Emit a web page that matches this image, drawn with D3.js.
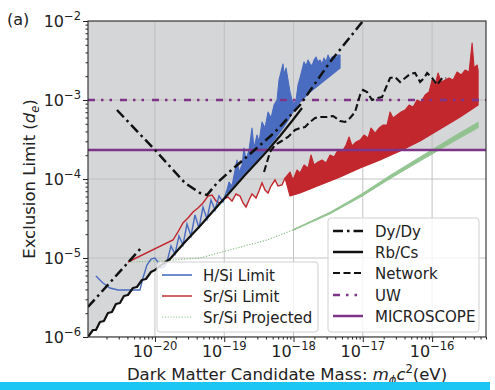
<!DOCTYPE html>
<html>
<head>
<meta charset="utf-8">
<script src="https://cdn.jsdelivr.net/npm/d3@7"></script>
<style>
  html, body { margin: 0; padding: 0; background: #fff; }
  svg { display: block; font-family: "DejaVu Sans", sans-serif; }
</style>
</head>
<body>
<svg id="chart" width="495" height="390"></svg>
<script>
// ---- axis ticks ----
const massTicks = [1e-20, 1e-19, 1e-18, 1e-17, 1e-16];
const massTickExp = ["\u221220", "\u221219", "\u221218", "\u221217", "\u221216"];
const limitTicks = [1e-6, 1e-5, 1e-4, 1e-3, 1e-2];
const limitTickExp = ["\u22126", "\u22125", "\u22124", "\u22123", "\u22122"];

// ---- Rb/Cs clock comparison ----
const rbcsMass = [1.078e-21, 1.273e-21, 1.406e-21, 1.607e-21, 1.834e-21, 2.096e-21, 2.394e-21, 2.734e-21, 3.126e-21, 3.567e-21,
  4.07e-21, 4.81e-21, 5.496e-21, 6.49e-21, 7.413e-21, 8.76e-21, 1e-20, 1.181e-20, 1.647e-20, 2.712e-20,
  4.466e-20, 7.354e-20, 1.211e-19, 1.994e-19, 3.072e-19, 4.283e-19, 6.383e-19, 9.513e-19, 1.327e-18];
const rbcsLimit = [1e-6, 1.226e-6, 1.226e-6, 1.548e-6, 1.594e-6, 2.013e-6, 2.073e-6, 2.616e-6, 2.694e-6, 3.304e-6,
  3.401e-6, 4.172e-6, 4.295e-6, 5.267e-6, 5.424e-6, 6.65e-6, 7.05e-6, 7.918e-6, 9.71e-6, 1.594e-5,
  2.542e-5, 4.172e-5, 6.846e-5, 1.124e-4, 1.69e-4, 2.329e-4, 3.502e-4, 5.424e-4, 7.918e-4];

// ---- Dy/Dy (two runs, null separates them) ----
const dyMass = [1.078e-21, 6.49e-21, null, 2.827e-21, 1e-20, 2.712e-20, 4.466e-20, 5.635e-20, 7.858e-20, 1.133e-19,
  2.354e-19, 5.406e-19, 1.241e-18, 3.366e-18, 1.008e-17];
const dyLimit = [2.397e-6, 1.378e-5, null, 7.471e-4, 2.329e-4, 8.9e-5, 6.65e-5, 6.274e-5, 8.9e-5, 1.191e-4,
  2.073e-4, 3.935e-4, 8.644e-4, 3.027e-3, 1e-2];

// ---- clock network ----
const networkMass = [3.75e-19, 4.578e-19, 5.406e-19, 6.383e-19, 8.33e-19, 1.051e-18, 1.241e-18, 1.466e-18, 1.731e-18, 2.044e-18,
  2.414e-18, 3.047e-18, 3.719e-18, 4.694e-18, 5.543e-18, 6.546e-18, 7.728e-18, 9.128e-18, 1.008e-17, 1.152e-17,
  1.36e-17, 1.606e-17, 1.897e-17, 2.24e-17, 2.475e-17, 2.922e-17, 3.451e-17, 4.075e-17, 4.813e-17, 5.682e-17,
  6.71e-17, 7.665e-17, 8.47e-17, 1e-16, 1.181e-16, 1.395e-16, 1.593e-16];
const networkLimit = [1.226e-4, 2.197e-4, 2.694e-4, 2.941e-4, 3.401e-4, 4.172e-4, 4.42e-4, 4.551e-4, 5.267e-4, 5.917e-4,
  6.091e-4, 6.091e-4, 6.274e-4, 5.424e-4, 5.267e-4, 5.917e-4, 7.05e-4, 1.157e-3, 1.339e-3, 1.263e-3,
  1e-3, 1.06e-3, 1.091e-3, 1.548e-3, 1.899e-3, 1.955e-3, 1.69e-3, 1.899e-3, 2.134e-3, 2.197e-3,
  1.69e-3, 1.899e-3, 2.197e-3, 1.899e-3, 1.548e-3, 1.899e-3, 1.899e-3];

// ---- H/Si limit: single trace at low mass, dense band above ----
const hsiTraceMass = [1.406e-21, 1.774e-21, 2.239e-21, 2.924e-21, 4.07e-21, 6.07e-21, 6.71e-21, 7.66e-21, 8.76e-21, 1e-20,
  1.105e-20, 1.22e-20, 1.349e-20, 1.49e-20, 1.702e-20, 1.945e-20, 2.22e-20, 2.537e-20, 2.898e-20, 3.31e-20,
  3.781e-20, 4.32e-20, 4.933e-20, 5.635e-20, 6.438e-20, 7.354e-20, 8.4e-20, 9.594e-20, 1.096e-19];
const hsiTraceLimit = [5.917e-6, 4.826e-6, 4.172e-6, 3.936e-6, 3.936e-6, 3.936e-6, 5.582e-6, 8.154e-6, 9.71e-6, 1e-5,
  8.9e-6, 7.471e-6, 7.693e-6, 8.9e-6, 1.419e-5, 1.124e-5, 1.899e-5, 1.461e-5, 2.694e-5, 1.899e-5,
  3.502e-5, 2.397e-5, 4.42e-5, 3.116e-5, 5.424e-5, 4.052e-5, 6.091e-5, 5.116e-5, 7.26e-5];
const hsiUpperMass = [1.096e-19, 1.171e-19, 1.294e-19, 1.43e-19, 1.528e-19, 1.633e-19, 1.804e-19, 1.929e-19, 2.061e-19, 2.278e-19,
  2.516e-19, 2.689e-19, 2.971e-19, 3.175e-19, 3.509e-19, 3.877e-19, 4.283e-19, 4.733e-19, 5.229e-19, 5.778e-19,
  6.175e-19, 6.6e-19, 7.054e-19, 7.292e-19, 7.793e-19, 8.33e-19, 8.9e-19, 9.513e-19, 1.017e-18, 1.087e-18,
  1.161e-18, 1.241e-18, 1.327e-18, 1.418e-18, 1.515e-18, 1.62e-18, 1.731e-18, 1.85e-18, 1.977e-18, 2.113e-18,
  2.258e-18, 2.414e-18, 2.58e-18, 2.757e-18, 2.947e-18, 3.149e-18, 3.366e-18, 3.597e-18, 3.844e-18, 4.109e-18,
  4.392e-18, 4.694e-18];
const hsiUpper = [7.26e-5, 9.162e-5, 8.154e-5, 1.3e-4, 1.74e-4, 1.226e-4, 1.504e-4, 2.469e-4, 1.74e-4, 2.329e-4,
  4.42e-4, 2.469e-4, 3.606e-4, 2.941e-4, 5.267e-4, 4.42e-4, 7.05e-4, 5.917e-4, 8.644e-4, 1e-3,
  1.792e-3, 2.262e-3, 2.856e-3, 2.073e-3, 2.542e-3, 1.792e-3, 1.263e-3, 1e-3, 8.9e-4, 1e-3,
  1.548e-3, 1.899e-3, 2.397e-3, 3.027e-3, 2.694e-3, 3.208e-3, 2.856e-3, 2.694e-3, 3.208e-3, 3.502e-3,
  3.027e-3, 3.208e-3, 2.856e-3, 3.401e-3, 3.027e-3, 3.711e-3, 3.208e-3, 3.502e-3, 3.606e-3, 3.401e-3,
  3.711e-3, 3.711e-3];
const hsiLowerMass = [1.096e-19, 1.43e-19, 1.994e-19, 2.78e-19, 3.877e-19, 5.406e-19, 7.054e-19, 8.61e-19, 1.017e-18, 1.241e-18,
  1.731e-18, 2.414e-18, 3.366e-18, 4.694e-18];
const hsiLower = [6.65e-5, 8.644e-5, 1.191e-4, 1.641e-4, 2.262e-4, 3.208e-4, 4.42e-4, 5.747e-4, 7.471e-4, 9.434e-4,
  1.263e-3, 1.594e-3, 2.013e-3, 2.542e-3];

// ---- Sr/Si limit: single trace at low mass, dense band above ----
const srsiTraceMass = [4.07e-21, 1.82e-20, 2.148e-20, 2.537e-20, 2.996e-20, 3.538e-20, 4.178e-20, 4.933e-20, 5.826e-20, 6.655e-20,
  7.603e-20, 8.684e-20, 9.917e-20, 1.133e-19, 1.294e-19, 1.478e-19, 1.688e-19, 1.866e-19, 2.061e-19, 2.278e-19,
  2.516e-19, 2.873e-19, 3.175e-19, 3.509e-19, 3.877e-19, 4.283e-19, 4.733e-19, 5.406e-19, 5.974e-19, 6.823e-19,
  7.539e-19];
const srsiTraceLimit = [8.9e-6, 1.69e-5, 2.134e-5, 2.773e-5, 3.208e-5, 3.822e-5, 4.295e-5, 4.967e-5, 6.091e-5, 6.274e-5,
  5.267e-5, 4.967e-5, 5.582e-5, 5.917e-5, 5.267e-5, 6.457e-5, 6.091e-5, 4.967e-5, 4.42e-5, 5.424e-5,
  6.457e-5, 5.747e-5, 7.05e-5, 8.9e-5, 7.26e-5, 6.65e-5, 8.154e-5, 9.71e-5, 8.154e-5, 8.398e-5,
  1.03e-4];
const srsiUpperMass = [7.539e-19, 8.9e-19, 9.834e-19, 1.123e-18, 1.241e-18, 1.418e-18, 1.62e-18, 1.789e-18, 1.977e-18, 2.258e-18,
  2.58e-18, 2.947e-18, 3.366e-18, 3.844e-18, 4.392e-18, 5.017e-18, 5.73e-18, 6.331e-18, 6.995e-18, 7.99e-18,
  9.128e-18, 1.042e-17, 1.191e-17, 1.316e-17, 1.503e-17, 1.717e-17, 1.961e-17, 2.24e-17, 2.475e-17, 2.734e-17,
  3.123e-17, 3.567e-17, 4.075e-17, 4.656e-17, 5.316e-17, 6.073e-17, 6.937e-17, 7.923e-17, 9.05e-17, 1e-16,
  1.105e-16, 1.22e-16, 1.349e-16, 1.541e-16, 1.76e-16, 2.011e-16, 2.296e-16, 2.623e-16, 2.996e-16, 3.422e-16,
  3.781e-16, 4.042e-16, 4.466e-16, 4.617e-16];
const srsiUpper = [1.03e-4, 1.226e-4, 9.71e-5, 1.3e-4, 1.191e-4, 1.504e-4, 1.378e-4, 2.013e-4, 1.504e-4, 1.641e-4,
  1.74e-4, 1.594e-4, 2.013e-4, 1.899e-4, 2.329e-4, 2.197e-4, 2.694e-4, 3.401e-4, 2.616e-4, 2.941e-4,
  3.116e-4, 3.606e-4, 3.304e-4, 4.42e-4, 3.822e-4, 4.42e-4, 4.826e-4, 4.826e-4, 7.05e-4, 5.917e-4,
  6.457e-4, 7.05e-4, 7.471e-4, 8.644e-4, 8.154e-4, 1e-3, 9.434e-4, 1.157e-3, 1.263e-3, 1.792e-3,
  1.548e-3, 2.197e-3, 1.69e-3, 1.792e-3, 1.899e-3, 1.792e-3, 2.262e-3, 2.073e-3, 2.397e-3, 2.262e-3,
  5.267e-3, 2.542e-3, 2.773e-3, 2.397e-3];
const srsiLowerMass = [7.539e-19, 8.9e-19, 1.241e-18, 2.414e-18, 4.694e-18, 9.128e-18, 1.775e-17, 3.451e-17, 6.71e-17, 1.305e-16,
  2.537e-16, 4.617e-16];
const srsiLower = [1.03e-4, 6.091e-5, 6.65e-5, 8.398e-5, 1.06e-4, 1.378e-4, 1.74e-4, 2.262e-4, 3.027e-4, 4.295e-4,
  6.091e-4, 8.644e-4];

// ---- Sr/Si projected ----
const projMass = [4.07e-21, 1.181e-20, 4.466e-20, 1.338e-19, 4.143e-19, 9.834e-19, 3.366e-18, 9.754e-18, 2.475e-17, 6.71e-17,
  2.296e-16, 4.617e-16];
const projLimit = [8.9e-6, 9.162e-6, 1e-5, 1.3e-5, 1.69e-5, 2.262e-5, 3.711e-5, 6.274e-5, 1.06e-4, 1.792e-4,
  3.401e-4, 4.826e-4];
const projBandMass = [9.834e-19, 3.366e-18, 9.754e-18, 2.475e-17, 6.71e-17, 2.296e-16, 4.617e-16];
const projBandLow = [2.24e-5, 3.62e-5, 6.06e-5, 1.011e-4, 1.69e-4, 3.164e-4, 4.45e-4];
const projBandHigh = [2.28e-5, 3.8e-5, 6.5e-5, 1.111e-4, 1.9e-4, 3.656e-4, 5.24e-4];

// ---- mass-independent bounds ----
const uwLimit = 1e-3;
const microscopeLimit = 2.33e-4;

// ---- legend labels ----
const leftLegendLabels = ["H/Si Limit", "Sr/Si Limit", "Sr/Si Projected"];
const rightLegendLabels = ["Dy/Dy", "Rb/Cs", "Network", "UW", "MICROSCOPE"];

// ================= drawing =================
const svg = d3.select("#chart");
const plot = { left: 88, right: 486, top: 21, bottom: 337 };

const x = d3.scaleLog().domain([1.08e-21, 6.0e-16]).range([plot.left, plot.right]);
const y = d3.scaleLog().domain([1e-6, 1e-2]).range([plot.bottom, plot.top]);

const zip = (ms, vs) => ms.map((m, i) => [m, vs[i]]);

svg.append("defs").append("clipPath").attr("id", "plotClip")
  .append("rect")
  .attr("x", plot.left).attr("y", plot.top)
  .attr("width", plot.right - plot.left).attr("height", plot.bottom - plot.top);

const g = svg.append("g").attr("clip-path", "url(#plotClip)");

// excluded region: everything above the tightest of Rb/Cs, Sr/Si and MICROSCOPE
function logInterp(ms, vs, m) {
  if (m < ms[0] || m > ms[ms.length - 1]) return null;
  for (let i = 1; i < ms.length; i++) {
    if (m <= ms[i]) {
      const t = (Math.log(m) - Math.log(ms[i - 1])) / (Math.log(ms[i]) - Math.log(ms[i - 1]));
      return Math.exp(Math.log(vs[i - 1]) + t * (Math.log(vs[i]) - Math.log(vs[i - 1])));
    }
  }
  return null;
}
const srsiEdgeMass = srsiTraceMass.concat(srsiLowerMass.slice(1));
const srsiEdge = srsiTraceLimit.concat(srsiLower.slice(1));
const edge = d3.range(plot.left, plot.right + 0.5, 0.5).map(px => {
  const m = x.invert(px);
  let v = microscopeLimit;
  [[rbcsMass, rbcsLimit], [srsiEdgeMass, srsiEdge]].forEach(([ms, vs]) => {
    const e = logInterp(ms, vs, m);
    if (e !== null) v = Math.min(v, e);
  });
  return [px, y(v)];
});
g.append("path")
  .datum(edge)
  .attr("d", d3.area().x(d => d[0]).y0(plot.top).y1(d => d[1]))
  .attr("fill", "#d5d6d8");

// grid
g.selectAll(".vgrid").data(massTicks).join("line")
  .attr("x1", d => x(d)).attr("x2", d => x(d))
  .attr("y1", plot.top).attr("y2", plot.bottom)
  .attr("stroke", "#bdbdbd").attr("stroke-width", 0.9);
g.selectAll(".hgrid").data(limitTicks).join("line")
  .attr("y1", d => y(d)).attr("y2", d => y(d))
  .attr("x1", plot.left).attr("x2", plot.right)
  .attr("stroke", "#bdbdbd").attr("stroke-width", 0.9);

const line = d3.line().defined(d => d[0] !== null && d[1] !== null).x(d => x(d[0])).y(d => y(d[1]));

// Sr/Si projected
g.append("path").datum(zip(projMass, projLimit)).attr("d", line)
  .attr("fill", "none").attr("stroke", "#8cbf88").attr("stroke-width", 1.2)
  .attr("stroke-dasharray", "1.2,1.6");
g.append("path")
  .datum(projBandMass.map((m, i) => [m, projBandLow[i], projBandHigh[i]]))
  .attr("d", d3.area().x(d => x(d[0])).y0(d => y(d[1])).y1(d => y(d[2])))
  .attr("fill", "#8cc189").attr("stroke", "#8cc189").attr("stroke-width", 1).attr("opacity", 0.9);

// Sr/Si limit
const red = "#c1272d";
g.append("path").datum(zip(srsiTraceMass, srsiTraceLimit)).attr("d", line)
  .attr("fill", "none").attr("stroke", red).attr("stroke-width", 1.4);
const srsiBand = zip(srsiUpperMass, srsiUpper).concat(zip(srsiLowerMass, srsiLower).reverse());
g.append("path").datum(srsiBand)
  .attr("d", d3.line().x(d => x(d[0])).y(d => y(d[1])).curve(d3.curveLinearClosed))
  .attr("fill", red).attr("stroke", red).attr("stroke-width", 1.1).attr("stroke-linejoin", "round");

// H/Si limit
const blue = "#4a6cc0";
g.append("path").datum(zip(hsiTraceMass, hsiTraceLimit)).attr("d", line)
  .attr("fill", "none").attr("stroke", blue).attr("stroke-width", 1.4);
const hsiBand = zip(hsiUpperMass, hsiUpper).concat(zip(hsiLowerMass, hsiLower).reverse());
g.append("path").datum(hsiBand)
  .attr("d", d3.line().x(d => x(d[0])).y(d => y(d[1])).curve(d3.curveLinearClosed))
  .attr("fill", blue).attr("stroke", blue).attr("stroke-width", 1.1).attr("stroke-linejoin", "round");

// horizontal bounds
const purple = "#7d3489";
g.append("line")
  .attr("x1", plot.left).attr("x2", plot.right)
  .attr("y1", y(uwLimit)).attr("y2", y(uwLimit))
  .attr("stroke", purple).attr("stroke-width", 2.6)
  .attr("stroke-dasharray", "7,6,2.5,6,2.5,8");
g.append("line")
  .attr("x1", plot.left).attr("x2", plot.right)
  .attr("y1", y(microscopeLimit)).attr("y2", y(microscopeLimit))
  .attr("stroke", purple).attr("stroke-width", 2.4);

// black clock limits
g.append("path").datum(zip(rbcsMass, rbcsLimit)).attr("d", line)
  .attr("fill", "none").attr("stroke", "#111").attr("stroke-width", 2.2).attr("stroke-linejoin", "round");
g.append("path").datum(zip(dyMass, dyLimit)).attr("d", line)
  .attr("fill", "none").attr("stroke", "#111").attr("stroke-width", 2.5)
  .attr("stroke-dasharray", "10,4,2.5,4");
g.append("path").datum(zip(networkMass, networkLimit)).attr("d", line)
  .attr("fill", "none").attr("stroke", "#111").attr("stroke-width", 2.1)
  .attr("stroke-dasharray", "7,3.5");

// axes ticks
const minorTicks = (lo, hi) => {
  const out = [];
  for (let k = Math.floor(Math.log10(lo)); k <= Math.ceil(Math.log10(hi)); k++) {
    for (let j = 2; j <= 9; j++) {
      const v = j * Math.pow(10, k);
      if (v >= lo && v <= hi) out.push(v);
    }
  }
  return out;
};
const styleAxis = sel => {
  sel.select(".domain").remove();
  sel.selectAll(".tick line").attr("stroke", "#222").attr("stroke-width", 1);
  sel.selectAll(".tick text").remove();
};
svg.append("g").attr("transform", `translate(${plot.left},0)`)
  .call(d3.axisLeft(y).tickValues(limitTicks).tickSize(5).tickFormat(""))
  .call(styleAxis);
svg.append("g").attr("transform", `translate(${plot.left},0)`)
  .call(d3.axisLeft(y).tickValues(minorTicks(1e-6, 1e-2)).tickSize(2.5).tickFormat(""))
  .call(styleAxis);
svg.append("g").attr("transform", `translate(0,${plot.bottom})`)
  .call(d3.axisBottom(x).tickValues(massTicks).tickSize(5).tickFormat(""))
  .call(styleAxis);
svg.append("g").attr("transform", `translate(0,${plot.bottom})`)
  .call(d3.axisBottom(x).tickValues(minorTicks(x.domain()[0], x.domain()[1])).tickSize(2.5).tickFormat(""))
  .call(styleAxis);

// frame
svg.append("rect")
  .attr("x", plot.left).attr("y", plot.top)
  .attr("width", plot.right - plot.left).attr("height", plot.bottom - plot.top)
  .attr("fill", "none").attr("stroke", "#2a2a2a").attr("stroke-width", 1.1);

// tick labels
const tickFont = 16, supFont = 11.5;
limitTicks.forEach((v, i) => {
  const t = svg.append("text").attr("x", 81).attr("y", y(v) + 6)
    .attr("text-anchor", "end").attr("font-size", tickFont).attr("fill", "#222");
  t.append("tspan").text("10");
  t.append("tspan").attr("dy", -7).attr("font-size", supFont).text(limitTickExp[i]);
});
massTicks.forEach((v, i) => {
  const t = svg.append("text").attr("x", x(v)).attr("y", 357)
    .attr("text-anchor", "middle").attr("font-size", tickFont).attr("fill", "#222");
  t.append("tspan").text("10");
  t.append("tspan").attr("dy", -7).attr("font-size", supFont).text(massTickExp[i]);
});

// axis titles
const xt = svg.append("text").attr("x", (plot.left + plot.right) / 2).attr("y", 380)
  .attr("text-anchor", "middle").attr("font-size", 16.5).attr("fill", "#222");
xt.append("tspan").text("Dark Matter Candidate Mass: ");
xt.append("tspan").attr("font-style", "italic").text("m");
xt.append("tspan").attr("font-style", "italic").attr("font-size", 11.5).attr("dy", 4).text("\u03d5");
xt.append("tspan").attr("font-style", "italic").attr("dy", -4).text("c");
xt.append("tspan").attr("font-size", 11.5).attr("dy", -7).text("2");
xt.append("tspan").attr("dy", 7).text("(eV)");

const yt = svg.append("text")
  .attr("transform", `translate(35,${(plot.top + plot.bottom) / 2}) rotate(-90)`)
  .attr("text-anchor", "middle").attr("font-size", 16.5).attr("fill", "#222");
yt.append("tspan").text("Exclusion Limit (");
yt.append("tspan").attr("font-style", "italic").text("d");
yt.append("tspan").attr("font-style", "italic").attr("font-size", 11.5).attr("dy", 4).text("e");
yt.append("tspan").attr("dy", -4).text(")");

svg.append("text").attr("x", 7).attr("y", 25).attr("font-size", 16).attr("fill", "#222").text("(a)");

// legends
function legend(box, labels, styles, sampleX, textX, rowY) {
  svg.append("rect")
    .attr("x", box.x).attr("y", box.y).attr("width", box.w).attr("height", box.h)
    .attr("rx", 3).attr("fill", "#fff").attr("fill-opacity", 0.8)
    .attr("stroke", "#d0d0d0").attr("stroke-width", 1);
  labels.forEach((lab, i) => {
    const s = styles[i];
    const yy = rowY[i];
    svg.append("line").attr("x1", sampleX).attr("x2", sampleX + 30).attr("y1", yy).attr("y2", yy)
      .attr("stroke", s.color).attr("stroke-width", s.width)
      .attr("stroke-dasharray", s.dash || null);
    svg.append("text").attr("x", textX).attr("y", yy + 5.5)
      .attr("font-size", 15).attr("fill", "#222").text(lab);
  });
}
legend({ x: 157, y: 262, w: 161, h: 70 }, leftLegendLabels, [
  { color: "#6d8ccf", width: 2 },
  { color: "#c63b3b", width: 1.6 },
  { color: "#8cbf88", width: 1.2, dash: "1.2,1.6" }
], 162, 203, [275, 296, 317]);
legend({ x: 328, y: 218, w: 151, h: 114 }, rightLegendLabels, [
  { color: "#111", width: 2.5, dash: "10,4,2.5,4" },
  { color: "#111", width: 2.5 },
  { color: "#111", width: 2.2, dash: "7,3.5" },
  { color: purple, width: 2.5, dash: "7,6,2.5,6,2.5,8" },
  { color: purple, width: 2.5 }
], 333, 375, [231, 252, 273, 295, 316]);

// bottom band
svg.append("rect").attr("x", 0).attr("y", 382).attr("width", 490).attr("height", 8).attr("fill", "#1cc6f4");
</script>
</body>
</html>
